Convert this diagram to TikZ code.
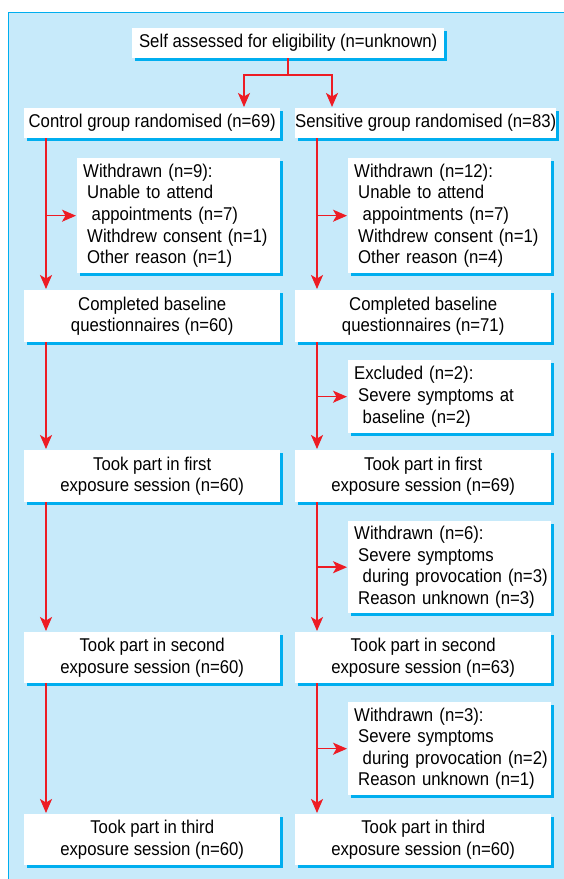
\documentclass[tikz,border=0pt]{standalone}
\usepackage{fontspec}
\setmainfont[FakeStretch=0.905]{Liberation Sans}
\usetikzlibrary{arrows.meta,shadows}
\definecolor{bgblue}{HTML}{C7EAFA}
\definecolor{shcyan}{HTML}{00AEEF}
\definecolor{arred}{HTML}{ED1C24}
\begin{document}
\begin{tikzpicture}[x=1pt,y=-1pt,
  box/.style={fill=white, anchor=north west, inner sep=0pt,
    font=\fontsize{18.5}{21.6}\selectfont,
    general shadow={fill=shcyan, shadow xshift=3pt, shadow yshift=-3pt}},
  cbox/.style n args={2}{box, align=center, minimum width=#1, minimum height=#2},
  lbox/.style n args={2}{box, align=left, inner xsep=6pt, text width=#1-12pt, minimum height=#2},
  conn/.style={draw=arred, line width=1.5pt},
  arr/.style={conn, -{Stealth[length=14pt,width=12pt,inset=3.5pt]}, shorten >=1pt}]
\useasboundingbox (0,0) rectangle (564,879);
\clip (0,0) rectangle (564,879);
\fill[bgblue] (8,12) rectangle (600,900);
\draw[shcyan, line width=1pt] (8,900) -- (8,12) -- (600,12);

\node[cbox={312pt}{30pt}] (top) at (132,28) {Self assessed for eligibility (n=unknown)};
\node[cbox={256pt}{30pt}] (ctrl) at (24,108) {Control group randomised (n=69)};
\node[cbox={256pt}{30pt}] (sens) at (295,108) {Sensitive group randomised (n=83)};

\node[lbox={203pt}{115pt}] (wd1) at (77,158) {\mbox{Withdrawn (n=9):}\\\mbox{\hspace*{4pt}Unable to attend}\\\mbox{\hspace*{8.5pt}appointments (n=7)}\\\mbox{\hspace*{4pt}Withdrew consent (n=1)}\\\mbox{\hspace*{4pt}Other reason (n=1)}};
\node[lbox={203pt}{115pt}] (wd2) at (348,158) {\mbox{Withdrawn (n=12):}\\\mbox{\hspace*{4pt}Unable to attend}\\\mbox{\hspace*{8.5pt}appointments (n=7)}\\\mbox{\hspace*{4pt}Withdrew consent (n=1)}\\\mbox{\hspace*{4pt}Other reason (n=4)}};

\node[cbox={256pt}{52pt}] (cb1) at (24,290) {Completed baseline\\questionnaires (n=60)};
\node[cbox={256pt}{52pt}] (cb2) at (295,290) {Completed baseline\\questionnaires (n=71)};

\node[lbox={203pt}{73pt}] (ex) at (348,360) {\mbox{Excluded (n=2):}\\\mbox{\hspace*{4pt}Severe symptoms at}\\\mbox{\hspace*{8.5pt}baseline (n=2)}};

\node[cbox={256pt}{52pt}] (f1) at (24,450) {Took part in first\\exposure session (n=60)};
\node[cbox={256pt}{52pt}] (f2) at (295,450) {Took part in first\\exposure session (n=69)};

\node[lbox={203pt}{92pt}] (wd3) at (348,521) {\mbox{Withdrawn (n=6):}\\\mbox{\hspace*{4pt}Severe symptoms}\\\mbox{\hspace*{8.5pt}during provocation (n=3)}\\\mbox{\hspace*{4pt}Reason unknown (n=3)}};

\node[cbox={256pt}{51pt}] (s1) at (24,632) {Took part in second\\exposure session (n=60)};
\node[cbox={256pt}{51pt}] (s2) at (295,632) {Took part in second\\exposure session (n=63)};

\node[lbox={203pt}{93pt}] (wd4) at (348,702) {\mbox{Withdrawn (n=3):}\\\mbox{\hspace*{4pt}Severe symptoms}\\\mbox{\hspace*{8.5pt}during provocation (n=2)}\\\mbox{\hspace*{4pt}Reason unknown (n=1)}};

\node[cbox={256pt}{51pt}] (t1) at (24,814) {Took part in third\\exposure session (n=60)};
\node[cbox={256pt}{51pt}] (t2) at (295,814) {Took part in third\\exposure session (n=60)};

\coordinate (jl) at (244,75);
\coordinate (jr) at (332,75);
\coordinate (L) at (46,0);
\coordinate (R) at (317,0);

\draw[conn] (top.south) -- (top.south |- jl);
\draw[arr] (top.south |- jl) -| (ctrl.north -| jl);
\draw[arr] (top.south |- jl) -| (sens.north -| jr);

\draw[arr] (ctrl.south -| L) -- (cb1.north -| L);
\draw[arr] (wd1.west -| L) -- (wd1.west);
\draw[arr] (cb1.south -| L) -- (f1.north -| L);
\draw[arr] (f1.south -| L) -- (s1.north -| L);
\draw[arr] (s1.south -| L) -- (t1.north -| L);

\draw[arr] (sens.south -| R) -- (cb2.north -| R);
\draw[arr] (wd2.west -| R) -- (wd2.west);
\draw[arr] (cb2.south -| R) -- (f2.north -| R);
\draw[arr] (ex.west -| R) -- (ex.west);
\draw[arr] (f2.south -| R) -- (s2.north -| R);
\draw[arr] (wd3.west -| R) -- (wd3.west);
\draw[arr] (s2.south -| R) -- (t2.north -| R);
\draw[arr] (wd4.west -| R) -- (wd4.west);
\end{tikzpicture}
\end{document}
